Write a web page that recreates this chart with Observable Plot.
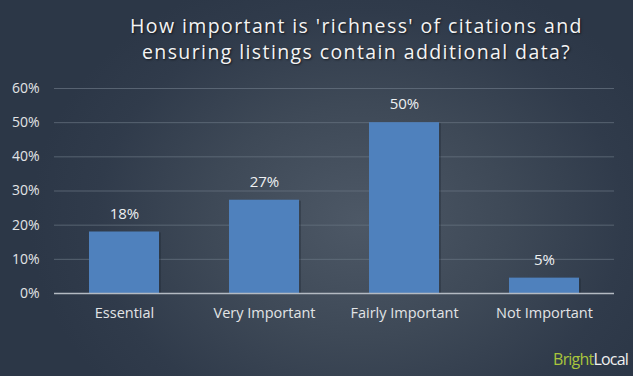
<!DOCTYPE html>
<html>
<head>
<meta charset="utf-8">
<script src="https://cdn.jsdelivr.net/npm/d3@7"></script>
<script src="https://cdn.jsdelivr.net/npm/@observablehq/plot@0.6"></script>
<style>
  html, body { margin: 0; padding: 0; }
  #wrap {
    position: relative; width: 633px; height: 376px; overflow: hidden;
    background: radial-gradient(ellipse 330px 260px at 360px 220px, #4d5866 0%, #3e4957 45%, #303b4b 80%, #2c3747 100%);
    font-family: "Open Sans", sans-serif;
  }
  #title {
    position: absolute; left: 0; top: 13px; width: 633px; padding-left: 80px; box-sizing: border-box;
    text-align: center; color: #f4f4f4; font-size: 19.5px; line-height: 26px; letter-spacing: 1.4px;
    text-shadow: 1px 1px 2px rgba(0,0,0,0.6);
  }
  #chart { position: absolute; left: 0; top: 0; }
  #logo {
    position: absolute; right: 5px; bottom: 6px; font-size: 16px; letter-spacing: -0.8px;
    font-family: "Open Sans", sans-serif;
  }
  #logo .b { color: #a9c53c; }
  #logo .l { color: #f0f0f0; }
</style>
</head>
<body>
<div id="wrap">
  <div id="chart"></div>
  <div id="title">How important is 'richness' of citations and<br>ensuring listings contain additional data?</div>
  <div id="logo"><span class="b">Bright</span><span class="l">Local</span></div>
</div>
<script>
const categories = ["Essential", "Very Important", "Fairly Important", "Not Important"];
const values = [18, 27.3, 50, 4.5];
const valueLabels = ["18%", "27%", "50%", "5%"];
const yTicks = [0, 10, 20, 30, 40, 50, 60];

const data = categories.map((c, i) => ({category: c, value: values[i], label: valueLabels[i]}));

const plot = Plot.plot({
  width: 633,
  height: 376,
  marginTop: 88,
  marginBottom: 83,
  marginLeft: 54,
  marginRight: 19,
  style: {background: "transparent", fontFamily: "Open Sans, sans-serif", fontSize: "14px", color: "#e2e4e6"},
  x: {domain: categories, paddingInner: 0.5, paddingOuter: 0.25, label: null},
  y: {domain: [0, 60], label: null},
  marks: [
    Plot.gridY(yTicks, {stroke: "#6a7583", strokeOpacity: 0.7, strokeWidth: 1}),
    Plot.axisY(yTicks, {tickFormat: d => d + "%", tickSize: 0, tickPadding: 15, fill: "#e2e4e6", fontSize: 14}),
    Plot.axisX({tickSize: 0, tickPadding: 14, fill: "#e2e4e6", fontSize: 14.5}),
    Plot.barY(data, {x: "category", y: "value", fill: "#1c2430", fillOpacity: 0.35, dx: 2, dy: 1}),
    Plot.barY(data, {x: "category", y: "value", fill: "#4f81bd"}),
    Plot.ruleY([0], {stroke: "#b4bac2", strokeWidth: 1.6}),
    Plot.text(data, {x: "category", y: "value", text: "label", dy: -18, fill: "#eef0f2", fontSize: 15})
  ]
});
document.getElementById("chart").appendChild(plot);
</script>
</body>
</html>
